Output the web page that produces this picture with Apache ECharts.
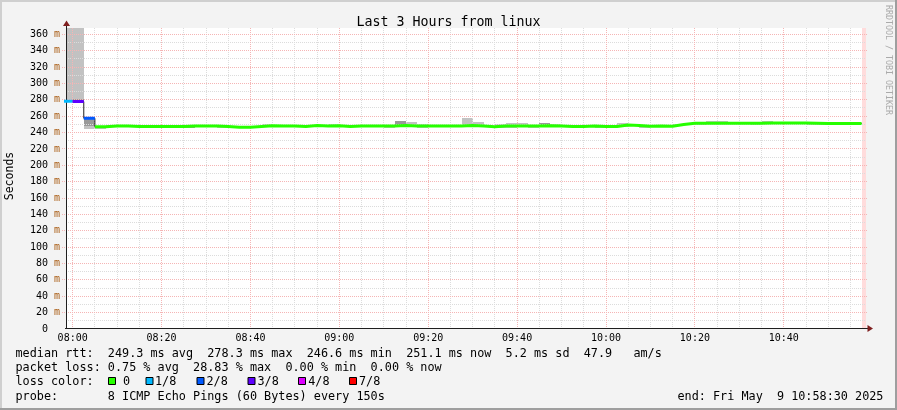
<!DOCTYPE html>
<html><head><meta charset="utf-8">
<script src="https://cdn.jsdelivr.net/npm/echarts@6/dist/echarts.min.js"></script>
<style>html,body{margin:0;padding:0;background:#f3f3f3}#c{width:897px;height:410px}</style>
</head><body><div id="c"></div><script>
// ---- data (minutes relative to 08:00; each RRD row covers STEP minutes and ends at i*STEP) ----
const STEP = 2.5;
const median = [
278.3, 277.8, 257.4, 247.0, 248.1, 248.1, 247.5, 247.5, 247.5, 247.5,
247.5, 248.1, 248.1, 248.1, 247.5, 246.6, 246.6, 247.5, 248.3, 248.0,
247.9, 247.4, 248.6, 247.9, 248.3, 247.4, 248.1, 248.1, 248.1, 247.9,
248.5, 247.9, 247.9, 247.9, 247.9, 247.9, 248.5, 247.9, 247.0, 247.9,
247.9, 247.9, 247.9, 248.3, 248.0, 247.4, 247.4, 247.9, 247.4, 247.4,
249.1, 248.5, 247.7, 247.9, 247.8, 249.7, 251.3, 251.3, 251.3, 251.3,
251.3, 251.3, 251.3, 251.5, 251.5, 251.5, 251.5, 251.3, 251.1, 251.1,
251.1, 251.1
];
const lossEighths = [
1, 3, 2, 0, 0, 0, 0, 0, 0, 0,
0, 0, 0, 0, 0, 0, 0, 0, 0, 0,
0, 0, 0, 0, 0, 0, 0, 0, 0, 0,
0, 0, 0, 0, 0, 0, 0, 0, 0, 0,
0, 0, 0, 0, 0, 0, 0, 0, 0, 0,
0, 0, 0, 0, 0, 0, 0, 0, 0, 0,
0, 0, 0, 0, 0, 0, 0, 0, 0, 0,
0, 0
];
const smokeLo = [
278.0, 277.5, 244.6, 244.6, 247.5, 247.5, 247.0, 247.0, 247.0, 247.0,
247.0, 246.0, 247.5, 247.5, 245.0, 246.0, 246.0, 245.5, 247.8, 247.5,
247.4, 246.9, 248.0, 247.4, 247.8, 246.9, 247.6, 247.6, 247.6, 245.0,
248.0, 247.4, 245.0, 247.4, 247.4, 247.4, 248.0, 247.4, 246.5, 245.0,
245.0, 247.4, 245.0, 247.8, 247.5, 246.9, 245.0, 247.4, 245.0, 245.0,
247.0, 248.0, 245.0, 247.4, 247.3, 249.2, 250.8, 248.7, 250.8, 250.8,
250.8, 250.8, 248.7, 251.0, 251.0, 251.0, 251.0, 249.3, 248.7, 248.7,
250.6, 250.6
];
const smokeHi = [
380.0, 380.0, 257.4, 247.5, 248.6, 248.6, 248.0, 248.0, 248.0, 248.0,
248.0, 248.6, 248.6, 248.6, 248.0, 247.1, 247.1, 248.0, 249.9, 249.5,
249.5, 247.9, 249.1, 248.4, 249.9, 247.9, 248.6, 248.6, 248.6, 249.7,
253.6, 252.3, 249.9, 248.4, 248.4, 248.4, 258.0, 252.8, 247.5, 249.9,
251.5, 251.5, 248.4, 251.9, 249.9, 249.5, 247.9, 248.4, 247.9, 247.9,
251.1, 249.0, 248.2, 248.4, 248.3, 250.2, 251.8, 251.8, 254.0, 254.0,
251.8, 251.8, 251.8, 254.0, 252.0, 252.0, 252.0, 251.8, 251.6, 251.6,
251.6, 251.6
];
// denser smoke (more pings overlapping)
const denseLo = {1: 278.5, 2: 247.9, 11: 246.0, 30: 249.5, 43: 249.5};
const denseHi = {1: 281.0, 2: 256.0, 11: 247.5, 30: 253.6, 43: 251.9};
const unknownFrom = 177.5;   // no data after 10:57:30

const xTickValues = [0, 20, 40, 60, 80, 100, 120, 140, 160];
const xTickLabels = ['08:00','08:20','08:40','09:00','09:20','09:40','10:00','10:20','10:40'];
const yTickValues = [0,20,40,60,80,100,120,140,160,180,200,220,240,260,280,300,320,340,360];

const lossLevels = [0, 1, 2, 3, 4, 7];
const lossLabels = ['0', '1/8', '2/8', '3/8', '4/8', '7/8'];
const lossColors = ['#26ff00', '#00b8ff', '#0059ff', '#5e00ff', '#dd00ff', '#ff0000'];

const statLines = [
  'median rtt:  249.3 ms avg  278.3 ms max  246.6 ms min  251.1 ms now  5.2 ms sd  47.9   am/s',
  'packet loss: 0.75 % avg  28.83 % max  0.00 % min  0.00 % now',
  'loss color:',
  'probe:       8 ICMP Echo Pings (60 Bytes) every 150s'
];
const endText = 'end: Fri May  9 10:58:30 2025';
const titleText = 'Last 3 Hours from linux';

// ---- layout / style ----
const X_MIN = -1.5, X_MAX = 178.5, Y_MAX = 367.7;
const MONO = 'DejaVu Sans Mono';
const GRID_C = '#dcdcdc', MGRID_C = '#f5b5b5', AXIS_C = '#1f1f1f', ARROW_C = '#7f1f1f';

const tStart = i => (i - 1) * STEP;
const tEnd = i => i * STEP;

function stepLine(filter) {
  const pts = [];
  let prev = false;
  for (let i = 0; i < median.length; i++) {
    if (filter(i)) {
      if (!prev && pts.length) pts.push([tStart(i), null]);
      pts.push([tStart(i), median[i]]);
      pts.push([tEnd(i), median[i]]);
      prev = true;
    } else prev = false;
  }
  return pts;
}

const smokeData = median.map((m, i) => [tStart(i), tEnd(i), smokeLo[i], smokeHi[i]]);
const denseData = Object.keys(denseLo).map(k => [tStart(+k), tEnd(+k), denseLo[k], denseHi[k]]);

function rectRender(fill) {
  return function (params, api) {
    const a = api.coord([api.value(0), api.value(3)]);
    const b = api.coord([api.value(1), api.value(2)]);
    const cs = params.coordSys;
    const x1 = Math.round(a[0]), x2 = Math.round(b[0]);
    const y1 = Math.round(a[1]), y2 = Math.round(b[1]);
    const r = echarts.graphic.clipRectByRect(
      {x: x1, y: y1, width: x2 - x1, height: Math.max(0, y2 - y1)},
      {x: cs.x, y: cs.y, width: cs.width, height: cs.height});
    return r ? {type: 'rect', shape: r, style: {fill: fill}} : null;
  };
}

function gridRender(params, api) {
  const ch = [];
  const px = v => Math.floor(v) + 0.5;
  const x0 = api.coord([X_MIN, 0])[0], x1 = api.coord([X_MAX, 0])[0];
  const yb = api.coord([0, 0])[1], yt = api.coord([0, Y_MAX])[1];
  const ux = api.coord([unknownFrom, 0])[0];
  ch.push({type: 'rect', shape: {x: Math.round(ux), y: yt, width: x1 - Math.round(ux), height: yb - yt}, style: {fill: '#ffdcdc'}});
  const dash = [1, 1];
  for (let m = 0; m <= X_MAX; m += 5) {
    if (m % 20 === 0) continue;
    const x = px(api.coord([m, 0])[0]);
    ch.push({type: 'line', shape: {x1: x, y1: yt, x2: x, y2: yb}, style: {stroke: GRID_C, lineWidth: 1, lineDash: dash}});
  }
  for (let v = 10; v <= Y_MAX; v += 10) {
    if (v % 20 === 0) continue;
    const y = px(api.coord([0, v])[1]);
    ch.push({type: 'line', shape: {x1: x0, y1: y, x2: x1, y2: y}, style: {stroke: GRID_C, lineWidth: 1, lineDash: dash}});
  }
  for (let m = 0; m <= X_MAX; m += 20) {
    const x = px(api.coord([m, 0])[0]);
    ch.push({type: 'line', shape: {x1: x, y1: yt, x2: x, y2: yb}, style: {stroke: MGRID_C, lineWidth: 1, lineDash: dash}});
  }
  for (let v = 20; v <= Y_MAX; v += 20) {
    const y = px(api.coord([0, v])[1]);
    ch.push({type: 'line', shape: {x1: x0 - 4, y1: y, x2: x1 + 2, y2: y}, style: {stroke: MGRID_C, lineWidth: 1, lineDash: dash}});
  }
  const ax = px(x0), ay = px(yb - 1);
  ch.push({type: 'line', shape: {x1: x0 - 1, y1: ay, x2: x1 + 3, y2: ay}, style: {stroke: AXIS_C, lineWidth: 1}});
  ch.push({type: 'line', shape: {x1: ax, y1: yb, x2: ax, y2: yt - 3}, style: {stroke: AXIS_C, lineWidth: 1}});
  ch.push({type: 'polygon', shape: {points: [[ax - 3.5, yt - 2], [ax + 3.5, yt - 2], [ax, yt - 7.5]]}, style: {fill: ARROW_C}});
  ch.push({type: 'polygon', shape: {points: [[x1 + 1.5, ay - 3.5], [x1 + 1.5, ay + 3.5], [x1 + 7, ay]]}, style: {fill: ARROW_C}});
  return {type: 'group', children: ch};
}

const series = [
  {type: 'custom', name: 'smoke', z: 1, renderItem: rectRender('#c2c2c2'), data: smokeData, encode: {x: [0, 1], y: [2, 3]}, animation: false, silent: true},
  {type: 'custom', name: 'smokeDense', z: 1, renderItem: rectRender('#999999'), data: denseData, encode: {x: [0, 1], y: [2, 3]}, animation: false, silent: true},
  {type: 'custom', name: 'grid', z: 2, renderItem: gridRender, data: [[0, 0]], animation: false, silent: true},
  {type: 'line', name: 'median', z: 3, data: stepLine(() => true), symbol: 'none', lineStyle: {color: '#202020', width: 1}, animation: false, silent: true}
];
lossLevels.forEach((lv, k) => {
  const d = stepLine(i => lossEighths[i] === lv);
  if (!d.length) return;
  series.push({type: 'line', name: 'loss ' + lossLabels[k], z: 4, data: d, symbol: 'none', connectNulls: false,
    lineStyle: {color: lossColors[k], width: 3, cap: 'butt', join: 'miter'}, animation: false, silent: true});
});

const graphic = [
  {type: 'rect', shape: {x: 0, y: 0, width: 897, height: 2}, style: {fill: '#cfcfcf'}},
  {type: 'rect', shape: {x: 0, y: 0, width: 2, height: 410}, style: {fill: '#cfcfcf'}},
  {type: 'rect', shape: {x: 0, y: 408, width: 897, height: 2}, style: {fill: '#9e9e9e'}},
  {type: 'rect', shape: {x: 895, y: 0, width: 2, height: 410}, style: {fill: '#9e9e9e'}},
  {type: 'text', x: 888, y: 60, rotation: -Math.PI / 2, style: {text: 'RRDTOOL / TOBI OETIKER', fill: '#aaaaaa', font: '8.3px ' + MONO, align: 'center', verticalAlign: 'middle'}},
  {type: 'text', x: 10, y: 176, rotation: Math.PI / 2, style: {text: 'Seconds', fill: '#000', font: '11.5px ' + MONO, align: 'center', verticalAlign: 'middle'}}
];
const lineY = [354, 368.3, 382, 396.7];
statLines.forEach((t, k) => graphic.push({type: 'text', x: 15.5, y: lineY[k], style: {text: t, fill: '#000', font: '11.8px ' + MONO, align: 'left', verticalAlign: 'middle'}}));
graphic.push({type: 'text', x: 677.5, y: lineY[3], style: {text: endText, fill: '#000', font: '11.8px ' + MONO, align: 'left', verticalAlign: 'middle'}});
const boxX = [108, 145.5, 196.5, 247.5, 298, 349];
const boxTextX = [123, 155, 206.5, 257.5, 308.2, 359];
lossLabels.forEach((lab, k) => {
  graphic.push({type: 'rect', shape: {x: boxX[k] + 0.5, y: 377.5, width: 7, height: 7}, style: {fill: lossColors[k], stroke: '#000', lineWidth: 1}});
  graphic.push({type: 'text', x: boxTextX[k], y: lineY[2], style: {text: lab, fill: '#000', font: '11.8px ' + MONO, align: 'left', verticalAlign: 'middle'}});
});

const chart = echarts.init(document.getElementById('c'), null, {renderer: 'canvas', width: 897, height: 410});
chart.setOption({
  backgroundColor: '#f3f3f3',
  animation: false,
  title: {text: titleText, left: 'center', top: 11, textStyle: {fontSize: 13.3, fontWeight: 'normal', fontFamily: MONO, color: '#000'}},
  grid: {left: 66, width: 800, top: 28, height: 301, show: true, backgroundColor: '#ffffff', borderWidth: 0, containLabel: false},
  xAxis: {type: 'value', min: X_MIN, max: X_MAX,
    axisLine: {show: false}, axisTick: {show: false}, splitLine: {show: false},
    axisLabel: {customValues: xTickValues, margin: 4, fontSize: 10, fontFamily: MONO, color: '#000',
      formatter: v => xTickLabels[xTickValues.indexOf(Math.round(v))] || ''}},
  yAxis: {type: 'value', min: 0, max: Y_MAX,
    axisLine: {show: false}, axisTick: {show: false}, splitLine: {show: false},
    axisLabel: {customValues: yTickValues, margin: 6, fontSize: 10, fontFamily: MONO, color: '#000',
      formatter: v => v === 0 ? '0  ' : '{n|' + v + '} {u|m}',
      rich: {n: {fontSize: 10, fontFamily: MONO, color: '#000'}, u: {fontSize: 10, fontFamily: MONO, color: '#a85a10'}}}},
  series: series,
  graphic: graphic
});
</script></body></html>
